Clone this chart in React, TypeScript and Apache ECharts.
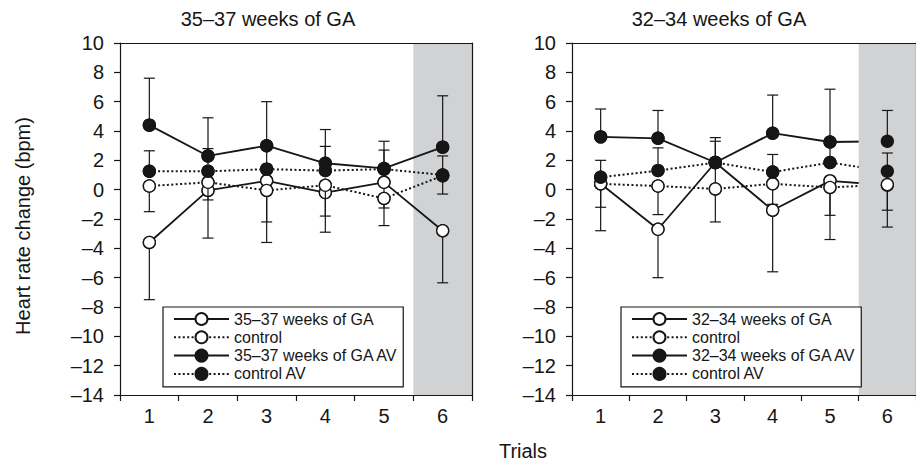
import React, { useEffect, useRef } from 'react';
import * as echarts from 'echarts';

// ---- data ----
const trials = ['1', '2', '3', '4', '5', '6'];
const shadedTrial = '6';
const yMin = -14;
const yMax = 10;
const yStep = 2;

// Left panel: 35–37 weeks of GA
const ga35 = [-3.6, -0.05, 0.6, -0.2, 0.5, -2.8];
const ga35Up = [0, 0, 0, 0, 0, 0];
const ga35Down = [3.9, 3.25, 4.2, 2.7, 2.95, 3.55];
const ctrl35 = [0.25, 0.5, -0.05, 0.3, -0.6, 0.95];
const ctrl35Up = [0, 0, 0, 0, 0, 0];
const ctrl35Down = [1.75, 1.2, 2.15, 2.1, 0.65, 1.25];
const av35 = [4.4, 2.3, 3.0, 1.8, 1.45, 2.9];
const av35Up = [3.2, 2.6, 3.0, 2.3, 1.85, 3.5];
const av35Down = [0, 0, 0, 0, 0, 0];
const ctrlAv35 = [1.25, 1.25, 1.4, 1.3, 1.4, 1.0];
const ctrlAv35Up = [1.4, 1.55, 1.5, 1.65, 1.3, 1.3];
const ctrlAv35Down = [0, 0, 0, 0, 0, 0];

// Right panel: 32–34 weeks of GA
const ga32 = [0.4, -2.7, 1.85, -1.4, 0.6, 0.3];
const ga32Up = [0, 0, 0, 0, 0, 0];
const ga32Down = [3.2, 3.3, 1.7, 4.2, 4.0, 2.85];
const ctrl32 = [0.4, 0.25, 0.05, 0.4, 0.15, 0.35];
const ctrl32Up = [0, 0, 0, 0, 0, 0];
const ctrl32Down = [1.6, 1.95, 2.25, 1.4, 1.9, 1.75];
const av32 = [3.6, 3.5, 1.85, 3.85, 3.25, 3.3];
const av32Up = [1.9, 1.9, 1.7, 2.6, 3.6, 2.1];
const av32Down = [0, 0, 0, 0, 0, 0];
const ctrlAv32 = [0.85, 1.3, 1.85, 1.2, 1.85, 1.25];
const ctrlAv32Up = [1.15, 1.55, 1.45, 1.2, 1.2, 1.25];
const ctrlAv32Down = [0, 0, 0, 0, 0, 0];

const leftNames = ['35–37 weeks of GA', 'control', '35–37 weeks of GA AV', 'control AV'];
const rightNames = ['32–34 weeks of GA', 'control', '32–34 weeks of GA AV', 'control AV'];

const INK = '#161616';
const SHADE = '#d1d2d4';
const FONT = '"Liberation Sans", Arial, Helvetica, sans-serif';

type Spec = { name: string; values: number[]; up: number[]; down: number[]; filled: boolean; dotted: boolean };

const leftSpecs: Spec[] = [
  { name: leftNames[0], values: ga35, up: ga35Up, down: ga35Down, filled: false, dotted: false },
  { name: leftNames[1], values: ctrl35, up: ctrl35Up, down: ctrl35Down, filled: false, dotted: true },
  { name: leftNames[2], values: av35, up: av35Up, down: av35Down, filled: true, dotted: false },
  { name: leftNames[3], values: ctrlAv35, up: ctrlAv35Up, down: ctrlAv35Down, filled: true, dotted: true },
];
const rightSpecs: Spec[] = [
  { name: rightNames[0], values: ga32, up: ga32Up, down: ga32Down, filled: false, dotted: false },
  { name: rightNames[1], values: ctrl32, up: ctrl32Up, down: ctrl32Down, filled: false, dotted: true },
  { name: rightNames[2], values: av32, up: av32Up, down: av32Down, filled: true, dotted: false },
  { name: rightNames[3], values: ctrlAv32, up: ctrlAv32Up, down: ctrlAv32Down, filled: true, dotted: true },
];

function lineSeries(s: Spec, axis: number, z: number) {
  return {
    type: 'line',
    name: s.name,
    xAxisIndex: axis,
    yAxisIndex: axis,
    z,
    silent: true,
    data: s.values,
    symbol: 'circle',
    symbolSize: 12,
    showSymbol: true,
    lineStyle: { color: INK, width: s.dotted ? 2 : 1.8, type: s.dotted ? [2, 2.4] : 'solid' },
    itemStyle: { color: s.filled ? INK : '#ffffff', borderColor: INK, borderWidth: 1.3 },
    emphasis: { disabled: true },
  };
}

function errSeries(s: Spec, axis: number, z: number) {
  return {
    type: 'custom',
    xAxisIndex: axis,
    yAxisIndex: axis,
    z,
    silent: true,
    data: s.values.map((v, i) => [i, v, s.up[i], s.down[i]]),
    encode: { x: 0, y: 1 },
    renderItem: (params: any, api: any) => {
      const i = api.value(0);
      const v = api.value(1);
      const up = api.value(2);
      const dn = api.value(3);
      const c = api.coord([i, v]);
      const cap = 5.5;
      const children: any[] = [];
      const addBar = (end: number) => {
        const e = api.coord([i, end]);
        children.push({ type: 'line', shape: { x1: c[0], y1: c[1], x2: e[0], y2: e[1] }, style: { stroke: INK, lineWidth: 1.2 } });
        children.push({ type: 'line', shape: { x1: e[0] - cap, y1: e[1], x2: e[0] + cap, y2: e[1] }, style: { stroke: INK, lineWidth: 1.2 } });
      };
      if (up) addBar(v + up);
      if (dn) addBar(v - dn);
      children.push({
        type: 'circle',
        shape: { cx: c[0], cy: c[1], r: 6 },
        style: { fill: s.filled ? INK : '#ffffff', stroke: INK, lineWidth: 1.3 },
      });
      return { type: 'group', children };
    },
  };
}

function shadeSeries(axis: number, z: number) {
  return {
    type: 'custom',
    xAxisIndex: axis,
    yAxisIndex: axis,
    z,
    silent: true,
    data: [[trials.indexOf(shadedTrial), 0]],
    encode: { x: 0, y: 1 },
    renderItem: (params: any, api: any) => {
      const cs = params.coordSys;
      const c = api.coord([api.value(0), 0]);
      const bw = api.size([1, 0])[0];
      return {
        type: 'rect',
        shape: { x: c[0] - bw / 2, y: cs.y, width: bw, height: cs.height },
        style: { fill: SHADE },
      };
    },
  };
}

function xAxes(grid: number) {
  return [
    {
      type: 'category',
      gridIndex: grid,
      data: trials,
      boundaryGap: true,
      z: 10,
      axisLine: { show: true, onZero: false, lineStyle: { color: INK, width: 1.2 } },
      axisTick: { show: true, inside: false, length: 6, alignWithLabel: false, lineStyle: { color: INK, width: 1.2 } },
      axisLabel: { fontSize: 20, color: INK, fontFamily: FONT, margin: 11 },
      splitLine: { show: false },
    },
    {
      type: 'category',
      gridIndex: grid,
      position: 'top',
      data: trials,
      boundaryGap: true,
      z: 10,
      axisLine: { show: true, onZero: false, lineStyle: { color: INK, width: 1.2 } },
      axisTick: { show: false },
      axisLabel: { show: false },
      splitLine: { show: false },
    },
  ];
}

function yAxes(grid: number) {
  return [
    {
      type: 'value',
      gridIndex: grid,
      min: yMin,
      max: yMax,
      interval: yStep,
      z: 10,
      axisLine: { show: true, onZero: false, lineStyle: { color: INK, width: 1.2 } },
      axisTick: { show: true, inside: false, length: 6, lineStyle: { color: INK, width: 1.2 } },
      axisLabel: {
        fontSize: 20,
        color: INK,
        fontFamily: FONT,
        margin: 16,
        formatter: (v: number) => String(v).replace('-', '–'),
      },
      splitLine: { show: false },
    },
    {
      type: 'value',
      gridIndex: grid,
      position: 'right',
      min: yMin,
      max: yMax,
      interval: yStep,
      z: 10,
      axisLine: { show: true, onZero: false, lineStyle: { color: INK, width: 1.2 } },
      axisTick: { show: false },
      axisLabel: { show: false },
      splitLine: { show: false },
    },
  ];
}

function legend(names: string[], left: number) {
  return {
    orient: 'vertical',
    left,
    top: 307,
    data: names,
    selectedMode: false,
    itemWidth: 55,
    itemHeight: 15,
    itemGap: 2.3,
    padding: [4, 5, 5, 10],
    backgroundColor: '#ffffff',
    borderColor: INK,
    borderWidth: 1.2,
    borderRadius: 0,
    textStyle: { fontSize: 16, color: INK, fontFamily: FONT },
  };
}

const textStyle = (text: string) => ({
  text,
  fontSize: 20,
  fontFamily: FONT,
  fill: INK,
  align: 'center',
  verticalAlign: 'middle',
  textAlign: 'center',
  textVerticalAlign: 'middle',
});

export default function App() {
  const ref = useRef<HTMLDivElement>(null);
  useEffect(() => {
    if (!ref.current) return;
    const chart = echarts.init(ref.current, undefined, { renderer: 'svg' });
    const series: any[] = [];
    // left panel (axis index 0)
    series.push(shadeSeries(0, 1));
    leftSpecs.forEach((s) => series.push(lineSeries(s, 0, 2)));
    leftSpecs.forEach((s, i) => series.push(errSeries(s, 0, 4 + i)));
    // right panel (axis index 2)
    rightSpecs.forEach((s) => series.push(lineSeries(s, 2, 2)));
    series.push(shadeSeries(2, 3));
    rightSpecs.forEach((s, i) => series.push(errSeries(s, 2, 4 + i)));

    chart.setOption({
      animation: false,
      backgroundColor: '#ffffff',
      textStyle: { fontFamily: FONT },
      grid: [
        { left: 120, top: 43, width: 352, height: 352, containLabel: false },
        { left: 572, top: 43, width: 353, height: 352, containLabel: false },
      ],
      xAxis: [...xAxes(0), ...xAxes(1)],
      yAxis: [...yAxes(0), ...yAxes(1)],
      legend: [legend(leftNames, 163), legend(rightNames, 621)],
      graphic: [
        { type: 'text', x: 268, y: 19, style: textStyle('35–37 weeks of GA') },
        { type: 'text', x: 719, y: 19, style: textStyle('32–34 weeks of GA') },
        { type: 'text', x: 23, y: 226, rotation: Math.PI / 2, style: textStyle('Heart rate change (bpm)') },
        { type: 'text', x: 523, y: 451, style: textStyle('Trials') },
      ],
      series,
    });
    return () => chart.dispose();
  }, []);
  return <div ref={ref} style={{ position: 'absolute', left: 0, top: 0, width: 916, height: 461 }} />;
}
